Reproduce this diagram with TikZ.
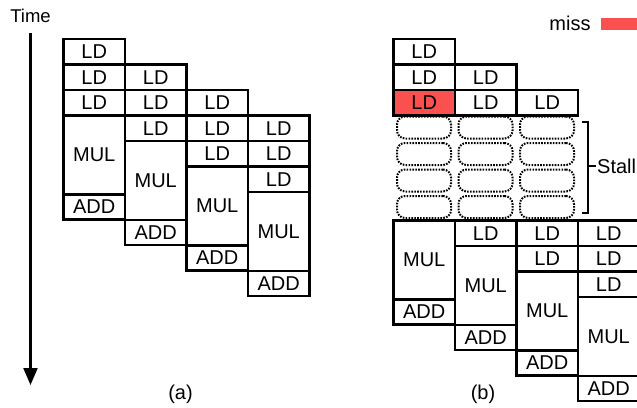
\documentclass[tikz,border=0pt]{standalone}
\usepackage{fontspec}
\setmainfont{Liberation Sans}
\usetikzlibrary{arrows.meta, positioning}
\definecolor{missred}{RGB}{250,80,80}

\begin{document}
\begin{tikzpicture}[x=1pt, y=1pt, every node/.style={font=\fontsize{20}{20}\selectfont},
    op/.style={draw, line width=2.8pt, minimum width=61.5pt, inner sep=0pt, outer sep=0pt, anchor=north west},
    ld/.style={op, minimum height=25.5pt},
    mul/.style={op, minimum height=79pt},
    add/.style={op, minimum height=25pt},
    stallbox/.style={draw, line width=2pt, dash pattern=on 1.6pt off 1.3pt, rounded corners=8pt,
                     minimum width=54pt, minimum height=22pt, inner sep=0pt},
    arr/.style={-{Triangle[width=14pt, length=17pt]}, line width=2.2pt}]

  \useasboundingbox (0,0) rectangle (637,-407);

  % time axis
  \node[font=\fontsize{18.5}{18.5}\selectfont] (time) at (30.5,-16) {Time};
  \coordinate (tend) at (30.5,-385);
  \draw[arr] ([yshift=-7pt]time.south) -- (tend);

  % (a) loads go straight through
  \foreach \c in {0,...,3} {
    \node[ld] (a\c-1) at ({63.5+61.5*\c}, {-39-25.5*\c}) {LD};
    \node[ld, below=0pt of a\c-1] (a\c-2) {LD};
    \node[ld, below=0pt of a\c-2] (a\c-3) {LD};
    \node[mul, below=0pt of a\c-3] (a\c-m) {MUL};
    \node[add, below=0pt of a\c-m] (a\c-a) {ADD};
  }
  \node (capa) at (180.5,-394) {(a)};

  % (b) third load misses
  \foreach \c/\r in {0/0, 0/1, 1/1, 1/2, 2/2}
    \node[ld] (b\c-\r) at ({393.5+61.5*\c}, {-39-25.5*\r}) {LD};
  \node[ld, fill=missred, below=0pt of b0-1] (b0-2) {LD};

  % empty pipeline slots
  \foreach \c in {0,1,2}
    \foreach \r in {0,...,3}
      \node[stallbox] (s\c-\r) at ({424+61.5*\c}, {-127.5-26.5*\r}) {};

  \coordinate (brt) at (582,-122);
  \coordinate (brm) at (588,-166);
  \coordinate (brb) at (582,-213);
  \node[anchor=west, inner sep=1pt] (stall) at (596,-166) {Stall};
  \draw[line width=2pt] (brt) -| (brm) |- (brb);
  \draw[line width=2pt] (brm) -- (stall.west);

  % rest of (b) after the stall
  \foreach \c in {0,...,3} {
    \node[mul] (b\c-m) at ({393.5+61.5*\c}, {-220.5-25.5*\c}) {MUL};
    \node[add, below=0pt of b\c-m] (b\c-a) {ADD};
  }
  \foreach \c/\r in {1/0, 2/0, 2/1, 3/0, 3/1, 3/2}
    \node[ld] (c\c-\r) at ({393.5+61.5*\c}, {-220.5-25.5*\r}) {LD};
  \node (capb) at (483,-394) {(b)};

  % legend
  \node (miss) at (570,-23.5) {miss};
  \node[fill=missred, minimum width=40pt, minimum height=12pt, inner sep=0pt, right=7pt of miss] (misskey) {};
\end{tikzpicture}
\end{document}
